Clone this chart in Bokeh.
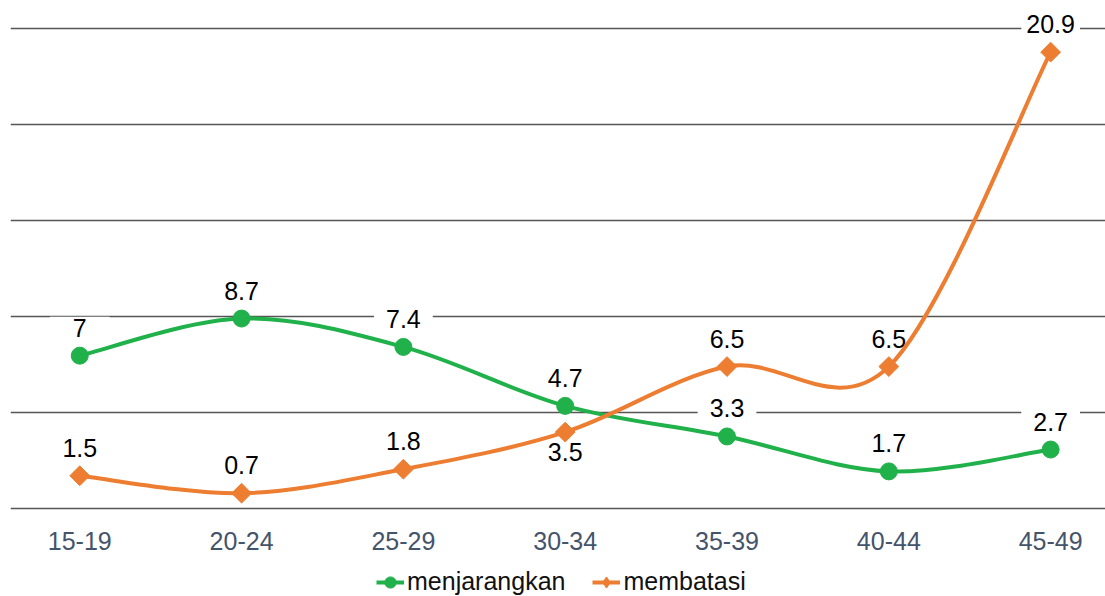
import numpy as np
from bokeh.plotting import figure
from bokeh.models import FixedTicker, Legend, LegendItem, Range1d
from bokeh.core.properties import value
from bokeh.embed import file_html
from bokeh.resources import INLINE

# ---- data ----
categories = ["15-19", "20-24", "25-29", "30-34", "35-39", "40-44", "45-49"]
menjarangkan = [7, 8.7, 7.4, 4.7, 3.3, 1.7, 2.7]
membatasi = [1.5, 0.7, 1.8, 3.5, 6.5, 6.5, 20.9]
grid_values = [0, 4.4, 8.8, 13.2, 17.6, 22]

# ---- style ----
GREEN = "#21B14B"
ORANGE = "#ED7D31"
FONT = "Liberation Sans"
GRID = "#555555"
FS = "25px"

xs = list(range(len(categories)))

p = figure(width=1105, height=596, output_backend="svg", toolbar_location=None,
           x_range=Range1d(-0.428, 6.339), y_range=Range1d(-4.03, 22.9),
           min_border_left=10, min_border_right=0, min_border_top=8, min_border_bottom=0)
p.outline_line_color = None
p.background_fill_color = "white"
p.border_fill_color = "white"
p.xaxis.visible = False
p.yaxis.visible = False
p.xgrid.visible = False
p.ygrid.ticker = FixedTicker(ticks=grid_values)
p.ygrid.grid_line_color = GRID
p.ygrid.grid_line_width = 1.3

# category labels under the baseline (grid line at 0)
p.text(x=xs, y=[0] * len(xs), text=categories, y_offset=32, text_align="center",
       text_baseline="middle", text_font=value(FONT), text_font_size=FS,
       text_color="#44546A")


def bezier_parts(xv, yv):
    n = len(xv)
    out = dict(x0=[], y0=[], x1=[], y1=[], cx0=[], cy0=[], cx1=[], cy1=[])
    for i in range(n - 1):
        xp, yp = (xv[i - 1], yv[i - 1]) if i > 0 else (xv[i], yv[i])
        xn, yn = (xv[i + 2], yv[i + 2]) if i + 2 < n else (xv[i + 1], yv[i + 1])
        out["x0"].append(xv[i]); out["y0"].append(yv[i])
        out["x1"].append(xv[i + 1]); out["y1"].append(yv[i + 1])
        out["cx0"].append(xv[i] + (xv[i + 1] - xp) / 6)
        out["cy0"].append(yv[i] + (yv[i + 1] - yp) / 6)
        out["cx1"].append(xv[i + 1] - (xn - xv[i]) / 6)
        out["cy1"].append(yv[i + 1] - (yn - yv[i]) / 6)
    return out


def char_w(s):
    return sum(0.278 if ch == "." else 0.556 for ch in s) * 25


def add_labels(xv, yv, below):
    for i, (xx, yy) in enumerate(zip(xv, yv)):
        s = f"{yy:g}"
        pad = max(0, int(round((59 - char_w(s)) / 2)))
        off = 20 if i in below else -28
        p.text(x=[xx], y=[yy], text=[s], y_offset=off, text_align="center",
               text_baseline="middle", text_font=value(FONT), text_font_size=FS,
               text_color="black", background_fill_color="white",
               padding=dict(left=pad, right=pad, top=2, bottom=2))


add_labels(xs, menjarangkan, set())
add_labels(xs, membatasi, {3})

g_line = p.bezier(**bezier_parts(xs, menjarangkan), line_color=GREEN, line_width=4)
o_line = p.bezier(**bezier_parts(xs, membatasi), line_color=ORANGE, line_width=4)
g_pts = p.scatter(xs, menjarangkan, marker="circle", size=17, fill_color=GREEN, line_color=GREEN)
o_pts = p.scatter(xs, membatasi, marker="square", angle=np.pi / 4, size=14,
                  fill_color=ORANGE, line_color=ORANGE)
# legend-only diamond marker (legend glyphs ignore marker rotation)
o_key = p.scatter(xs, membatasi, marker="diamond", size=14, fill_color=ORANGE,
                  line_color=ORANGE, visible=False)

legend = Legend(items=[LegendItem(label="menjarangkan", renderers=[g_line, g_pts]),
                       LegendItem(label="membatasi", renderers=[o_line, o_key])],
                orientation="horizontal", location=(366, 0),
                label_text_font=FONT, label_text_font_size=FS, label_text_color="#111111",
                glyph_width=28, glyph_height=28, label_standoff=3, spacing=27,
                padding=2, margin=0, border_line_color=None, background_fill_alpha=0,
                inactive_fill_alpha=0)
p.add_layout(legend, "center")

open("out.html", "w").write(file_html(p, INLINE))
